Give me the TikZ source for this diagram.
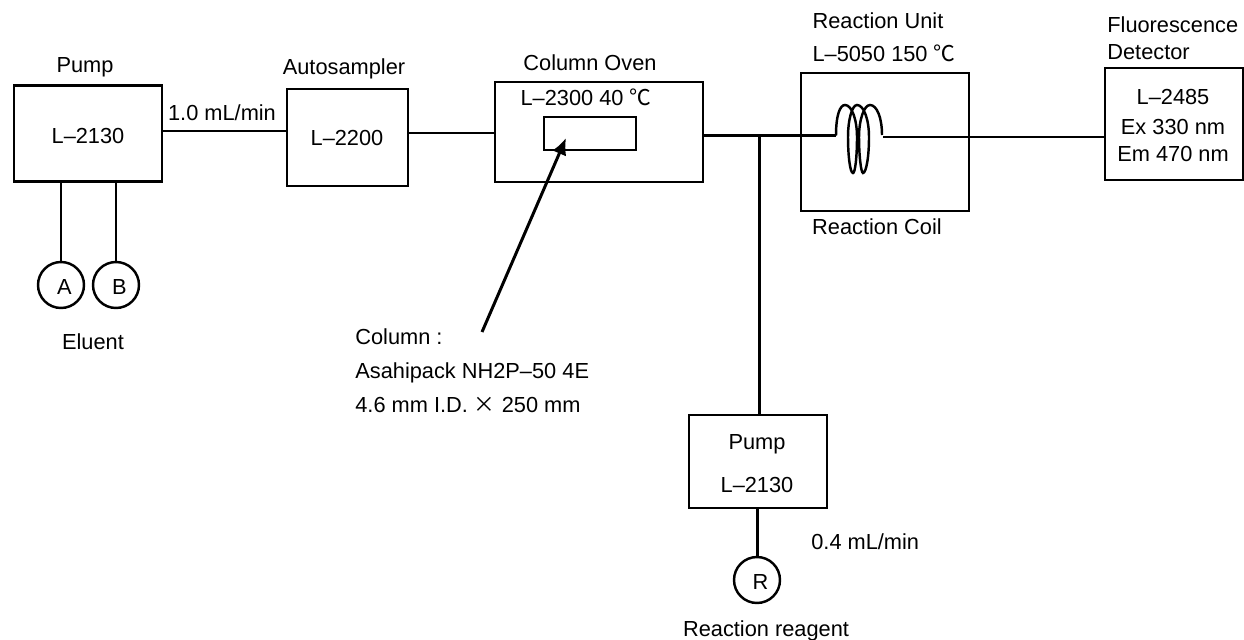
\documentclass[tikz,border=0pt]{standalone}
\usepackage{fontspec}
\setmainfont{Liberation Sans}
\newfontfamily\cjk{Noto Sans CJK JP}
\usetikzlibrary{arrows.meta,positioning}
\tikzset{
  unitbox/.style={draw,line width=1.45pt,outer sep=0pt,inner sep=0pt},
  vial/.style={draw,circle,line width=1.4pt,minimum size=0.92cm,outer sep=0pt,inner sep=0pt},
  pipe/.style={line width=1.7pt},
  lbl/.style={inner sep=0pt,anchor=mid,yshift=-1pt},
  lblw/.style={inner sep=0pt,anchor=mid west,yshift=-1pt}
}
\begin{document}
\begin{tikzpicture}[x=0.02cm,y=-0.02cm,font=\fontsize{12.4pt}{14pt}\selectfont]
  \useasboundingbox (0,0) rectangle (1244,639);
  \node[unitbox,minimum width=2.96cm,minimum height=1.92cm] (pumpa) at (88,133.5) {};
  \node[unitbox,minimum width=2.42cm,minimum height=1.94cm] (sampler) at (347.5,137.5) {};
  \node[unitbox,minimum width=4.16cm,minimum height=2cm] (oven) at (599,132) {};
  \node[unitbox,minimum width=1.84cm,minimum height=0.66cm] (column) at (590,133.5) {};
  \node[unitbox,minimum width=3.36cm,minimum height=2.76cm] (unit) at (885,142) {};
  \node[unitbox,minimum width=2.76cm,minimum height=2.24cm] (detector) at (1174,124) {};
  \node[unitbox,minimum width=2.76cm,minimum height=1.86cm] (pumpr) at (758,461.5) {};
  \node[vial,label={[xshift=2pt,yshift=-1pt]center:A}] (vesa) at (61,285) {};
  \node[vial,label={[xshift=2pt,yshift=-1pt]center:B}] (vesb) at (116,285) {};
  \node[vial,label={[xshift=2pt,yshift=-1pt]center:R}] (vesr) at (757,580) {};

  \coordinate (flowa) at (220,131);
  \coordinate (flowb) at (450,133);
  \coordinate (tee) at (759,135.5);
  \coordinate (coilin) at (836,135.5);
  \coordinate (coilout) at (883,137);
  \coordinate (colfoot) at (482,332);
  \coordinate (colhead) at (566,138);

  \draw[pipe] (pumpa.east |- flowa) -- (sampler.west |- flowa);
  \draw[pipe] (sampler.east |- flowb) -- (oven.west |- flowb);
  \draw[pipe] (oven.east |- tee) -- (coilin);
  \draw[pipe] (coilout) -- (detector.west |- coilout);
  \draw[pipe] (tee) -- (tee |- pumpr.north);
  \draw[pipe] (vesa.north) -- (vesa.north |- pumpa.south);
  \draw[pipe] (vesb.north) -- (vesb.north |- pumpa.south);
  \draw[pipe] (vesr.north) -- (vesr.north |- pumpr.south);
  \draw[pipe,-{Latex[length=9.5pt,width=8.5pt]}] (colfoot) -- (colhead);
  \draw[line width=1.4pt] (coilin) .. controls (836,115) and (840,105) .. (845,105)
    .. controls (852,105) and (857,120) .. (857,137) .. controls (857,158) and (855,173) .. (853,173)
    .. controls (850,173) and (848,155) .. (848,137) .. controls (848,120) and (852,105) .. (857,105)
    .. controls (864,105) and (869,120) .. (869,137) .. controls (869,158) and (866,173) .. (863,173)
    .. controls (861,173) and (859,155) .. (859,137) .. controls (859,120) and (864,105) .. (870,105)
    .. controls (877,105) and (882,118) .. (882,135);

  \node[lbl] (pumpatitle) at (85,66) {Pump};
  \node[lbl] (pumpamodel) at (88,137) {L–2130};
  \node[lbl] (flowatext) at (222,114) {1.0 mL/min};
  \node[lbl] (samplertitle) at (344,68) {Autosampler};
  \node[lbl] (samplermodel) at (347,139) {L–2200};
  \node[lbl] (oventitle) at (590,64) {Column Oven};
  \node[lbl] (ovenmodel) at (586,99) {L–2300 40 {\cjk ℃}};
  \node[lbl] (unittitle) at (878,22) {Reaction Unit};
  \node[lbl] (unitmodel) at (884,55) {L–5050 150 {\cjk ℃}};
  \node[lbl] (coiltext) at (877,228) {Reaction Coil};
  \node[lblw] (dettitlea) at (1107,26) {Fluorescence};
  \node[lblw] (dettitleb) at (1107,53) {Detector};
  \node[lbl] (detmodel) at (1173,98) {L–2485};
  \node[lbl] (detex) at (1173,128) {Ex 330 nm};
  \node[lbl] (detem) at (1173,155) {Em 470 nm};
  \node[lbl] (eluent) at (93,343) {Eluent};
  \node[lblw] (columna) at (355,338) {Column :};
  \node[lblw] (columnb) at (355,372) {Asahipack NH2P–50 4E};
  \node[lblw] (columnc) at (355,406) {4.6 mm I.D. {\cjk ×} 250 mm};
  \node[lbl] (pumprtitle) at (757,443) {Pump};
  \node[lbl] (pumprmodel) at (757,486) {L–2130};
  \node[lblw] (flowrtext) at (811,543) {0.4 mL/min};
  \node[lbl] (reagent) at (766,630) {Reaction reagent};
\end{tikzpicture}
\end{document}
